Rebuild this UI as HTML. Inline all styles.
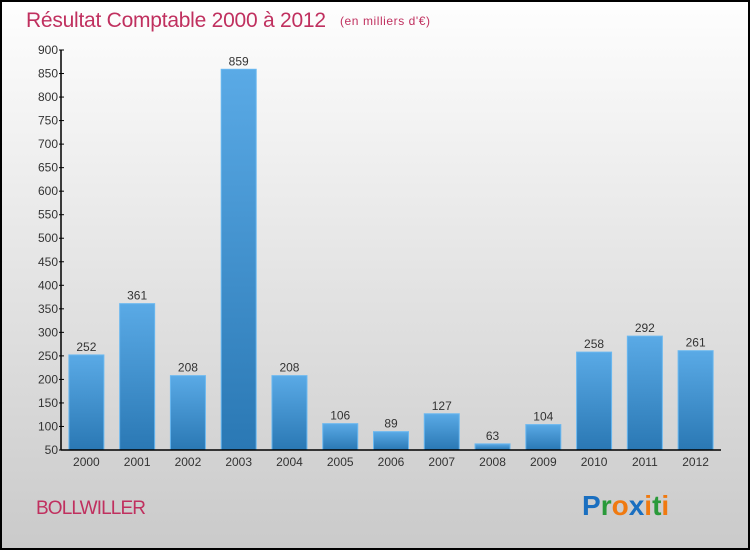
<!DOCTYPE html>
<html><head><meta charset="utf-8"><style>
html,body{margin:0;padding:0;}
body{width:750px;height:550px;overflow:hidden;font-family:"Liberation Sans",sans-serif;}
</style></head><body>
<svg id="chart" width="750" height="550" xmlns="http://www.w3.org/2000/svg">
<defs>
<linearGradient id="bg" x1="0" y1="0" x2="0" y2="1"><stop offset="0" stop-color="#fefefe"/><stop offset="1" stop-color="#cacaca"/></linearGradient>
<linearGradient id="bar" x1="0" y1="0" x2="0" y2="1"><stop offset="0" stop-color="#5aaae6"/><stop offset="1" stop-color="#2a78b4"/></linearGradient>
</defs>
<rect x="1" y="1" width="748" height="548" fill="url(#bg)" stroke="#000" stroke-width="2"/>
<text x="26" y="27" font-size="21" fill="#c0305f" textLength="300">Résultat Comptable 2000 à 2012</text>
<text x="340" y="25" font-size="12" fill="#c0305f" textLength="90">(en milliers d'€)</text>
<g id="bars"></g>
<g id="axes"></g>
<text x="36" y="514" font-size="19" fill="#c0305f" textLength="110">BOLLWILLER</text>
<g font-size="28" font-weight="bold" font-family="'Liberation Sans',sans-serif">
<text x="582" y="515"><tspan fill="#1a6fc0">P</tspan><tspan fill="#2a9a3a">r</tspan><tspan fill="#f07a10">o</tspan><tspan fill="#1a6fc0">x</tspan><tspan fill="#f07a10">i</tspan><tspan fill="#2a9a3a">t</tspan><tspan fill="#f07a10">i</tspan></text>
</g>
</svg>
<script>
const years = ["2000","2001","2002","2003","2004","2005","2006","2007","2008","2009","2010","2011","2012"];
const values = [252,361,208,859,208,106,89,127,63,104,258,292,261];
const yTicks = [50,100,150,200,250,300,350,400,450,500,550,600,650,700,750,800,850,900];
const NS="http://www.w3.org/2000/svg";
const x0=61,x1=721,yTop=50,yBot=450,vMin=50,vMax=900;
const slot=(x1-x0)/years.length;
function yS(v){return yBot-(v-vMin)/(vMax-vMin)*(yBot-yTop);}
function xS(i){return x0+(i+0.5)*slot;}
function mk(tag,attrs,parent){const e=document.createElementNS(NS,tag);for(const k in attrs)e.setAttribute(k,attrs[k]);parent.appendChild(e);return e;}
const gb=document.getElementById('bars'),ga=document.getElementById('axes');
values.forEach((v,i)=>{
  const y=yS(v),bw=35;
  const r=mk('rect',{x:xS(i)-bw/2,y:y,width:bw,height:yBot-y,fill:'url(#bar)',stroke:'#6ab8f0','stroke-width':1},gb);
  
  
  const t=mk('text',{x:xS(i),y:y-4,'text-anchor':'middle','font-size':12,fill:'#333'},gb);
  t.textContent=v;
  
  
  const xl=mk('text',{x:xS(i),y:466,'text-anchor':'middle','font-size':12,fill:'#333'},ga);
  xl.textContent=years[i];
  
  
});
const ya=mk('line',{x1:x0,y1:yTop,x2:x0,y2:yBot,stroke:'#000','stroke-width':1.5},ga);


const xa=mk('line',{x1:x0,y1:yBot,x2:x1,y2:yBot,stroke:'#000','stroke-width':1.5},ga);


yTicks.forEach(v=>{
  const y=yS(v);
  mk('line',{x1:x0-2,y1:y,x2:x0+3,y2:y,stroke:'#000'},ga);
  const t=mk('text',{x:x0-3,y:y+4,'text-anchor':'end','font-size':12,fill:'#333'},ga);
  t.textContent=v;
  
  
});
</script>
</body></html>
